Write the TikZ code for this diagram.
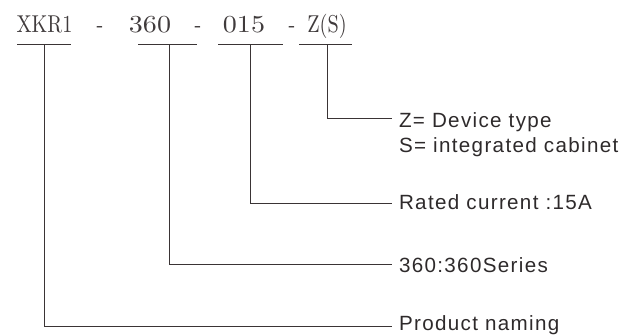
\documentclass[tikz,border=0pt]{standalone}
\usepackage{fontspec}
\setmainfont{Liberation Sans}
\newfontfamily\tletters{lmroman10-regular}[Extension=.otf,FakeStretch=0.83]
\newfontfamily\tdigits{lmroman10-regular}[Extension=.otf,FakeStretch=1.15]
\newfontfamily\lblfont{Liberation Sans}[LetterSpace=6.5]
\definecolor{linec}{HTML}{3A3435}
\definecolor{txtc}{HTML}{2E2A2B}
\definecolor{ttlc}{HTML}{403B3C}
\begin{document}
\begin{tikzpicture}[x=1bp,y=-1bp,
  conn/.style={draw=linec, line width=1bp},
  uline/.style={draw=linec, line width=1bp},
  lbl/.style={anchor=west, inner xsep=7bp, inner ysep=0pt, outer sep=0pt, text depth=0pt, font=\lblfont\fontsize{20.6bp}{25bp}\selectfont, text=txtc},
  ttl/.style={anchor=base, inner sep=0pt, text=ttlc, font=\fontsize{24.4bp}{28bp}\selectfont}]
\useasboundingbox (0,0) rectangle (637,335);
% title pieces
\node[ttl] (p1) at (44.5,32.5) {\tletters XKR1};
\node[ttl] (d1) at (100,32.5) {\tletters -};
\node[ttl] (p2) at (150,32.5) {\tdigits 360};
\node[ttl] (d2) at (198,32.5) {\tletters -};
\node[ttl] (p3) at (244,32.5) {\tdigits 015};
\node[ttl] (d3) at (292,32.5) {\tletters -};
\node[ttl] (p4) at (327,32.5) {\tletters Z(S)};
% underlines
\coordinate (u1l) at (17,44);  \coordinate (u1r) at (71,44);  \coordinate (c1) at (44,44);
\coordinate (u2l) at (138,44); \coordinate (u2r) at (197,44); \coordinate (c2) at (169,44);
\coordinate (u3l) at (218,44); \coordinate (u3r) at (283,44); \coordinate (c3) at (250,44);
\coordinate (u4l) at (299,44); \coordinate (u4r) at (352,44); \coordinate (c4) at (327,44);
\draw[uline] (u1l) -- (u1r);
\draw[uline] (u2l) -- (u2r);
\draw[uline] (u3l) -- (u3r);
\draw[uline] (u4l) -- (u4r);
% labels
\node[lbl, text height=18bp] (t4) at (392,118) {Z= Device type};
\node[lbl, anchor=base west] (t4b) at (392,152) {S= integrated cabinet};
\node[lbl, text height=13bp] (t3) at (392,203) {Rated current :15A};
\node[lbl, text height=16bp] (t2) at (392,264) {360:360Series};
\node[lbl, text height=8bp] (t1) at (392,326) {Product naming};
% connectors
\draw[conn] (c4) |- (t4.west);
\draw[conn] (c3) |- (t3.west);
\draw[conn] (c2) |- (t2.west);
\draw[conn] (c1) |- (t1.west);
\end{tikzpicture}
\end{document}
